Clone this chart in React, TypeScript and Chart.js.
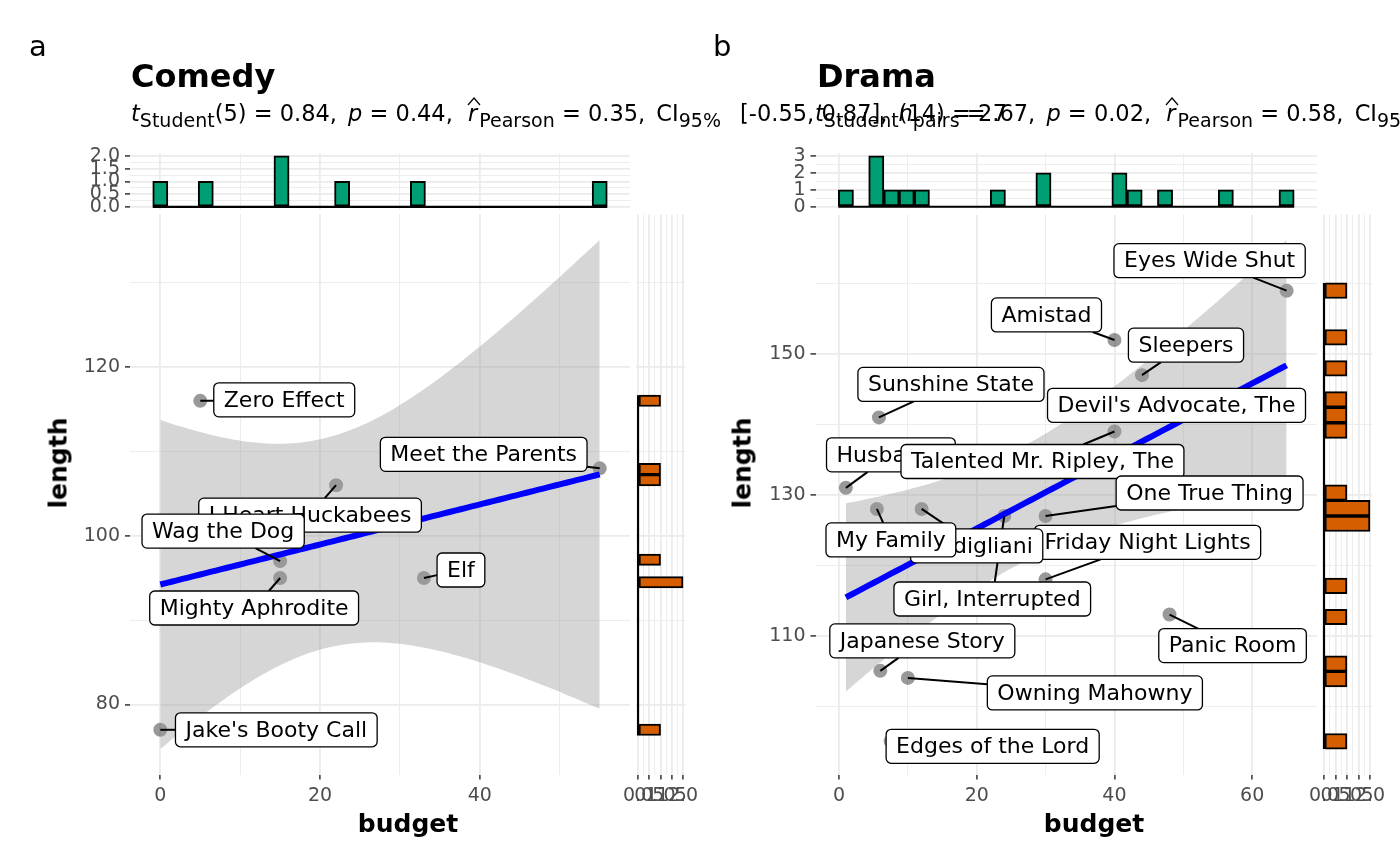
import React, { useEffect, useRef } from "react";
import { Chart, registerables } from "chart.js";

Chart.register(...registerables);

// ---------------- data ----------------
const comedyTitles = ["Zero Effect", "Meet the Parents", "I Heart Huckabees", "Wag the Dog", "Mighty Aphrodite", "Elf", "Jake's Booty Call"];
const comedyBudget = [5, 55, 22, 15, 15, 33, 0];
const comedyLength = [116, 108, 106, 97, 95, 95, 77];

const dramaTitles = [
  "Eyes Wide Shut", "Amistad", "Sleepers", "Devil's Advocate, The", "Sunshine State", "Husbands",
  "Talented Mr. Ripley, The", "One True Thing", "Friday Night Lights", "Girl, Interrupted", "Modigliani",
  "My Family", "Panic Room", "Japanese Story", "Owning Mahowny", "Edges of the Lord",
];
const dramaBudget = [65, 40, 44, 57, 5.8, 1, 40, 30, 30, 24, 12, 5.5, 48, 6, 10, 7.5];
const dramaLength = [159, 152, 147, 144, 141, 131, 139, 127, 118, 127, 128, 128, 113, 105, 104, 95];

// subtitle statistics (as printed)
const comedyStats = ["5", "0.84", "0.44", "0.35", "[-0.55, 0.87]", "7"];
const dramaStats = ["14", "2.67", "0.02", "0.58", "[0.12, 0.84]", "16"];

// tick values
const comedyXMajor = [0, 20, 40];
const comedyXMinor = [10, 30, 50];
const comedyYMajor = [80, 100, 120];
const comedyYMinor = [90, 110, 130];
const dramaXMajor = [0, 20, 40, 60];
const dramaXMinor = [10, 30, 50];
const dramaYMajor = [110, 130, 150];
const dramaYMinor = [100, 120, 140, 160];
const comedyTopMajor = [0, 0.5, 1, 1.5, 2];
const comedyTopMinor = [0.25, 0.75, 1.25, 1.75];
const comedySideMajor = [0, 0.5, 1, 1.5, 2];
const comedySideMinor = [0.25, 0.75, 1.25, 1.75];
const dramaTopMajor = [0, 1, 2, 3];
const dramaTopMinor = [0.5, 1.5, 2.5];
const dramaSideMajor = [0, 0.5, 1, 1.5, 2];
const dramaSideMinor = [0.25, 0.75, 1.25, 1.75];

// t quantiles (0.975) for the 95% confidence band
const T_CRIT_COMEDY = 2.570582; // df = 5
const T_CRIT_DRAMA = 2.144787; // df = 14

// ---------------- layout (pixels) ----------------
// label box centre offsets relative to each point (repelled label placement)
const comedyLabelOffsets = [[84, -1], [-116, -14], [-26, 30], [-57, -30], [-26, 30], [37, -8], [116, 0]];
const dramaLabelOffsets = [
  [-77, -30], [-68, -25], [44, -30], [-55, 9], [72, -33], [45, -33], [-72, 30], [164, -23], [102, -37],
  [-12, 83], [55, 37], [14, 31], [63, 31], [42, -30], [187, 15], [102, 5],
];

const W = 1400;
const H = 866;
const Y_AXIS_W = 56;
const X_AXIS_H = 40;
const FONT = '"DejaVu Sans", "Noto Sans", sans-serif';

type Box = { l: number; r: number; t: number; b: number };

// ---------------- helpers ----------------
function histogram(vals: number[], bins = 30) {
  const lo = Math.min(...vals);
  const hi = Math.max(...vals);
  const w = (hi - lo) / (bins - 1);
  const counts = new Array(bins).fill(0);
  vals.forEach((v) => {
    let k = Math.ceil((v - lo + w / 2) / w - 1e-9) - 1;
    k = Math.max(0, Math.min(bins - 1, k));
    counts[k] += 1;
  });
  const centers = counts.map((_, k) => lo + k * w);
  return { centers, counts, lo: lo - w / 2, hi: hi + w / 2, max: Math.max(...counts) };
}

function linFit(xs: number[], ys: number[], tcrit: number, steps = 80) {
  const n = xs.length;
  const mx = xs.reduce((a, b) => a + b, 0) / n;
  const my = ys.reduce((a, b) => a + b, 0) / n;
  let sxx = 0;
  let sxy = 0;
  xs.forEach((x, i) => {
    sxx += (x - mx) * (x - mx);
    sxy += (x - mx) * (ys[i] - my);
  });
  const b = sxy / sxx;
  const a = my - b * mx;
  let sse = 0;
  xs.forEach((x, i) => {
    const e = ys[i] - (a + b * x);
    sse += e * e;
  });
  const s = Math.sqrt(sse / (n - 2));
  const x0 = Math.min(...xs);
  const x1 = Math.max(...xs);
  const line: { x: number; y: number }[] = [];
  const lower: { x: number; y: number }[] = [];
  const upper: { x: number; y: number }[] = [];
  for (let k = 0; k < steps; k++) {
    const x = x0 + ((x1 - x0) * k) / (steps - 1);
    const yh = a + b * x;
    const se = s * Math.sqrt(1 / n + ((x - mx) * (x - mx)) / sxx);
    line.push({ x, y: yh });
    lower.push({ x, y: yh - tcrit * se });
    upper.push({ x, y: yh + tcrit * se });
  }
  return { line, lower, upper };
}

function expand(lo: number, hi: number) {
  const d = (hi - lo) * 0.05;
  return [lo - d, hi + d];
}

function axis(
  min: number,
  max: number,
  major: number[],
  minor: number[],
  fmt: (v: number) => string,
  showLabels: boolean,
  orient: "x" | "y",
  size: number
) {
  const all = [...major, ...minor].sort((a, b) => a - b);
  const isMajor = (v: number) => major.some((m) => Math.abs(m - v) < 1e-9);
  return {
    type: "linear",
    min,
    max,
    offset: false,
    afterBuildTicks: (s: any) => {
      s.ticks = all.map((v) => ({ value: v }));
    },
    afterFit: (s: any) => {
      if (orient === "x") s.height = size;
      else s.width = size;
      s.paddingLeft = 0;
      s.paddingRight = 0;
      s.paddingTop = 0;
      s.paddingBottom = 0;
    },
    ticks: {
      display: showLabels,
      autoSkip: false,
      maxRotation: 0,
      minRotation: 0,
      padding: 5,
      color: "#4d4d4d",
      font: { family: FONT, size: 19 },
      callback: (v: any) => (isMajor(Number(v)) ? fmt(Number(v)) : ""),
    },
    grid: {
      offset: false,
      color: "#ebebeb",
      lineWidth: (c: any) => (c.tick && isMajor(c.tick.value) ? 1.8 : 0.9),
      drawTicks: showLabels,
      tickLength: 5,
      tickWidth: 1.5,
      tickColor: (c: any) => (c.tick && isMajor(c.tick.value) ? "#333333" : "rgba(0,0,0,0)"),
    },
    border: { display: false },
  };
}

function padFor(area: Box, left: number, bottom: number) {
  return { left: area.l - left, right: W - area.r, top: area.t, bottom: H - area.b - bottom };
}

function labelPlugin(titles: string[], xs: number[], ys: number[], offsets: number[][]) {
  return {
    id: "repelLabels",
    afterDatasetsDraw(chart: any) {
      const ctx = chart.ctx as CanvasRenderingContext2D;
      const sx = chart.scales.x;
      const sy = chart.scales.y;
      ctx.save();
      ctx.font = `22px ${FONT}`;
      const bh = 34;
      const padX = 10;
      const boxes = titles.map((t, i) => {
        const px = sx.getPixelForValue(xs[i]);
        const py = sy.getPixelForValue(ys[i]);
        const bw = ctx.measureText(t).width + 2 * padX;
        const cx = px + offsets[i][0];
        const cy = py + offsets[i][1];
        return { t, px, py, cx, cy, bw };
      });
      // segments first
      ctx.strokeStyle = "#000";
      ctx.lineWidth = 2;
      ctx.lineCap = "butt";
      boxes.forEach((b) => {
        const dx = b.px - b.cx;
        const dy = b.py - b.cy;
        if (Math.abs(dx) <= b.bw / 2 && Math.abs(dy) <= bh / 2) return;
        const tx = dx === 0 ? Infinity : b.bw / 2 / Math.abs(dx);
        const ty = dy === 0 ? Infinity : bh / 2 / Math.abs(dy);
        const t = Math.min(tx, ty);
        const ex = b.cx + dx * t;
        const ey = b.cy + dy * t;
        const len = Math.hypot(b.px - ex, b.py - ey);
        if (len < 5) return;
        ctx.beginPath();
        ctx.moveTo(b.px, b.py);
        ctx.lineTo(ex, ey);
        ctx.stroke();
      });
      // boxes + text
      ctx.textBaseline = "middle";
      ctx.textAlign = "center";
      boxes.forEach((b) => {
        const x = b.cx - b.bw / 2;
        const y = b.cy - bh / 2;
        ctx.beginPath();
        (ctx as any).roundRect(x, y, b.bw, bh, 5);
        ctx.fillStyle = "#ffffff";
        ctx.fill();
        ctx.lineWidth = 1.3;
        ctx.strokeStyle = "#000";
        ctx.stroke();
        ctx.fillStyle = "#000";
        ctx.fillText(b.t, b.cx, b.cy + 1);
      });
      ctx.restore();
    },
  };
}

type PanelSpec = {
  titles: string[];
  xs: number[];
  ys: number[];
  tcrit: number;
  offsets: number[][];
  xMajor: number[];
  xMinor: number[];
  yMajor: number[];
  yMinor: number[];
  topMajor: number[];
  topMinor: number[];
  topFmt: (v: number) => string;
  sideMajor: number[];
  sideMinor: number[];
  sideFmt: (v: number) => string;
  main: Box;
  top: Box;
  side: Box;
};

function buildPanel(p: PanelSpec) {
  const hx = histogram(p.xs);
  const hy = histogram(p.ys);
  const fit = linFit(p.xs, p.ys, p.tcrit);
  const [xmin, xmax] = expand(Math.min(hx.lo, ...p.xs), Math.max(hx.hi, ...p.xs));
  const yLo = Math.min(hy.lo, ...p.ys, ...fit.lower.map((d) => d.y));
  const yHi = Math.max(hy.hi, ...p.ys, ...fit.upper.map((d) => d.y));
  const [ymin, ymax] = expand(yLo, yHi);
  const [tmin, tmax] = expand(0, hx.max);
  const [smin, smax] = expand(0, hy.max);
  const intFmt = (v: number) => String(v);
  const base = {
    animation: false,
    responsive: false,
    maintainAspectRatio: false,
    events: [],
    plugins: { legend: { display: false }, tooltip: { enabled: false }, title: { display: false } },
  };

  const mainCfg = () => ({
    type: "scatter",
    data: {
      datasets: [
        { type: "line", data: fit.lower, showLine: true, borderWidth: 0, pointRadius: 0, fill: false, order: 3 },
        {
          type: "line",
          data: fit.upper,
          showLine: true,
          borderWidth: 0,
          pointRadius: 0,
          fill: "-1",
          backgroundColor: "rgba(153,153,153,0.4)",
          order: 3,
        },
        {
          type: "line",
          data: fit.line,
          showLine: true,
          borderColor: "#0000ff",
          borderWidth: 6,
          borderCapStyle: "butt",
          pointRadius: 0,
          fill: false,
          order: 1,
        },
        {
          type: "scatter",
          data: p.xs.map((x, i) => ({ x, y: p.ys[i] })),
          pointRadius: 7,
          pointHoverRadius: 7,
          backgroundColor: "rgba(0,0,0,0.4)",
          borderWidth: 0,
          order: 4,
        },
      ],
    },
    options: {
      ...base,
      layout: { autoPadding: false, padding: padFor(p.main, Y_AXIS_W, X_AXIS_H) },
      scales: {
        x: axis(xmin, xmax, p.xMajor, p.xMinor, intFmt, true, "x", X_AXIS_H),
        y: axis(ymin, ymax, p.yMajor, p.yMinor, intFmt, true, "y", Y_AXIS_W),
      },
    },
    plugins: [labelPlugin(p.titles, p.xs, p.ys, p.offsets)],
  });

  const topCfg = () => ({
    type: "bar",
    data: {
      datasets: [
        {
          type: "bar",
          data: hx.centers.map((c, i) => ({ x: c, y: hx.counts[i] })),
          backgroundColor: "#009E73",
          borderColor: "#000000",
          borderWidth: 2,
          borderSkipped: false,
          barPercentage: 1,
          categoryPercentage: 1,
          grouped: false,
          order: 2,
        },
        {
          type: "line",
          data: [{ x: hx.lo, y: 0 }, { x: hx.hi, y: 0 }],
          borderColor: "#000000",
          borderWidth: 2.2,
          pointRadius: 0,
          fill: false,
          order: 1,
        },
      ],
    },
    options: {
      ...base,
      layout: { autoPadding: false, padding: padFor(p.top, Y_AXIS_W, 0) },
      scales: {
        x: axis(xmin, xmax, p.xMajor, p.xMinor, intFmt, false, "x", 0),
        y: axis(tmin, tmax, p.topMajor, p.topMinor, p.topFmt, true, "y", Y_AXIS_W),
      },
    },
  });

  const sideCfg = () => ({
    type: "bar",
    data: {
      datasets: [
        {
          type: "bar",
          indexAxis: "y",
          data: hy.centers.map((c, i) => ({ x: hy.counts[i], y: c })),
          backgroundColor: "#D55E00",
          borderColor: "#000000",
          borderWidth: 2,
          borderSkipped: false,
          barPercentage: 1,
          categoryPercentage: 1,
          grouped: false,
          order: 2,
        },
        {
          type: "line",
          data: [{ x: 0, y: hy.lo }, { x: 0, y: hy.hi }],
          borderColor: "#000000",
          borderWidth: 2.2,
          pointRadius: 0,
          fill: false,
          order: 1,
        },
      ],
    },
    options: {
      ...base,
      indexAxis: "y",
      layout: { autoPadding: false, padding: padFor(p.side, 0, X_AXIS_H) },
      scales: {
        x: axis(smin, smax, p.sideMajor, p.sideMinor, p.sideFmt, true, "x", X_AXIS_H),
        y: axis(ymin, ymax, p.yMajor, p.yMinor, intFmt, false, "y", 0),
      },
    },
  });

  return [mainCfg, topCfg, sideCfg];
}

const fmt1 = (v: number) => v.toFixed(1);

const comedyPanel = buildPanel({
  titles: comedyTitles,
  xs: comedyBudget,
  ys: comedyLength,
  tcrit: T_CRIT_COMEDY,
  offsets: comedyLabelOffsets,
  xMajor: comedyXMajor,
  xMinor: comedyXMinor,
  yMajor: comedyYMajor,
  yMinor: comedyYMinor,
  topMajor: comedyTopMajor,
  topMinor: comedyTopMinor,
  topFmt: fmt1,
  sideMajor: comedySideMajor,
  sideMinor: comedySideMinor,
  sideFmt: fmt1,
  main: { l: 130, r: 630, t: 214.5, b: 774.5 },
  top: { l: 130, r: 630, t: 153.3, b: 209.5 },
  side: { l: 635.8, r: 685.3, t: 214.5, b: 774.5 },
});

const dramaPanel = buildPanel({
  titles: dramaTitles,
  xs: dramaBudget,
  ys: dramaLength,
  tcrit: T_CRIT_DRAMA,
  offsets: dramaLabelOffsets,
  xMajor: dramaXMajor,
  xMinor: dramaXMinor,
  yMajor: dramaYMajor,
  yMinor: dramaYMinor,
  topMajor: dramaTopMajor,
  topMinor: dramaTopMinor,
  topFmt: (v: number) => String(v),
  sideMajor: dramaSideMajor,
  sideMinor: dramaSideMinor,
  sideFmt: fmt1,
  main: { l: 815.5, r: 1317, t: 214.5, b: 774.5 },
  top: { l: 815.5, r: 1317, t: 153.3, b: 209.3 },
  side: { l: 1321.7, r: 1372.3, t: 214.5, b: 774.5 },
});

function ChartCanvas({ make }: { make: () => any }) {
  const ref = useRef<HTMLCanvasElement | null>(null);
  useEffect(() => {
    if (!ref.current) return;
    const chart = new Chart(ref.current, make());
    return () => chart.destroy();
  }, [make]);
  return (
    <canvas
      ref={ref}
      width={W}
      height={H}
      style={{ position: "absolute", left: 0, top: 0, width: W, height: H }}
    />
  );
}

const SUB: React.CSSProperties = { fontSize: 19, position: "relative", top: 6 };

function Hat({ children }: { children: React.ReactNode }) {
  return (
    <span style={{ position: "relative", display: "inline-block", marginLeft: 4, marginRight: 2 }}>
      <i>{children}</i>
      <svg width={14} height={9} style={{ position: "absolute", left: -1, top: -5, overflow: "visible" }}>
        <polyline points="1,8 7,1 13,8" fill="none" stroke="#000" strokeWidth={1.2} />
      </svg>
    </span>
  );
}

const Sep = () => (
  <>
    ,<span style={{ marginRight: 4 }}> </span>
  </>
);

function Subtitle({ left, stats }: { left: number; stats: string[] }) {
  return (
    <div
      style={{
        position: "absolute",
        left,
        top: 102,
        fontSize: 22.5,
        lineHeight: 1,
        whiteSpace: "nowrap",
        color: "#000",
      }}
    >
      <i>t</i>
      <span style={SUB}>Student</span>({stats[0]}) = {stats[1]}
      <Sep />
      <i>p</i> = {stats[2]}
      <Sep />
      <Hat>r</Hat>
      <span style={SUB}>Pearson</span> = {stats[3]}
      <Sep />
      CI<span style={{ ...SUB, marginRight: 12 }}>95%</span> {stats[4]}
      <Sep />
      <i>n</i>
      <span style={SUB}>pairs</span> = {stats[5]}
    </div>
  );
}

function Txt({ left, top, size, bold, children, center, rotate }: any) {
  return (
    <div
      style={{
        position: "absolute",
        left,
        top,
        fontSize: size,
        fontWeight: bold ? "bold" : "normal",
        lineHeight: 1,
        whiteSpace: "nowrap",
        color: "#000",
        transform: rotate ? "translate(-50%, -50%) rotate(-90deg)" : center ? "translateX(-50%)" : undefined,
      }}
    >
      {children}
    </div>
  );
}

export default function App() {
  return (
    <div
      style={{
        position: "fixed",
        left: 0,
        top: 0,
        width: W,
        height: H,
        overflow: "hidden",
        background: "#ffffff",
        fontFamily: FONT,
      }}
    >
      {comedyPanel.map((m, i) => (
        <ChartCanvas key={"c" + i} make={m} />
      ))}
      {dramaPanel.map((m, i) => (
        <ChartCanvas key={"d" + i} make={m} />
      ))}
      <Txt left={29} top={32} size={29}>a</Txt>
      <Txt left={713} top={32} size={29}>b</Txt>
      <Txt left={131} top={60} size={32} bold>Comedy</Txt>
      <Txt left={817} top={60} size={32} bold>Drama</Txt>
      <Subtitle left={131} stats={comedyStats} />
      <Subtitle left={815} stats={dramaStats} />
      <Txt left={408} top={811} size={25} bold center>budget</Txt>
      <Txt left={1094} top={811} size={25} bold center>budget</Txt>
      <Txt left={58} top={463} size={25} bold rotate>length</Txt>
      <Txt left={742} top={463} size={25} bold rotate>length</Txt>
    </div>
  );
}
